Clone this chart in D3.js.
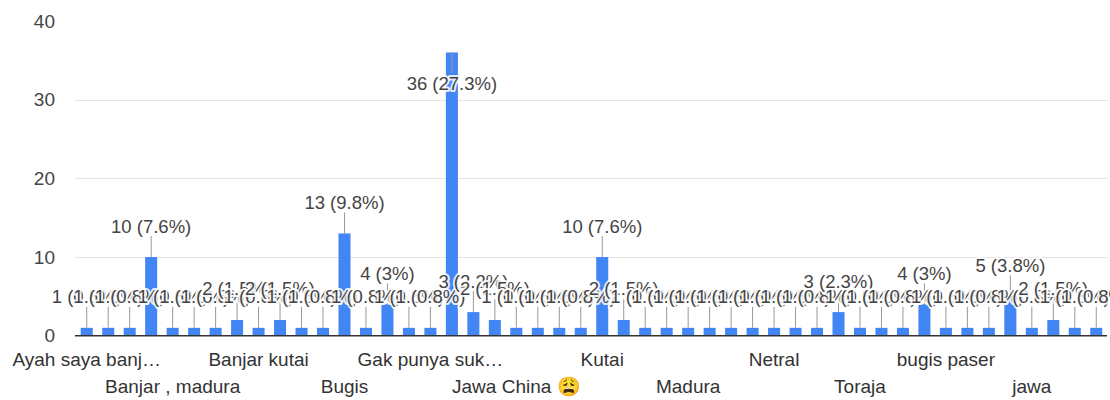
<!DOCTYPE html>
<html><head><meta charset="utf-8">
<script src="https://cdn.jsdelivr.net/npm/d3@7"></script>
<style>
body{margin:0;background:#fff;}
text{font-family:Arial,"Liberation Sans",sans-serif;}
</style>
</head><body>
<svg id="chart" width="1110" height="400"></svg>
<script>
const categories = [
  "Ayah saya banj…","Bajau","Bali","Banjar","Banjar , madura","Banjar Bugis","Banjar Jawa","Banjar Kutai",
  "Banjar kutai","Berau","Betawi","Bima","Bugis","Bugis Banjar","Dayak","Flores",
  "Gak punya suk…","Jawa","Jawa Banjar","Jawa Bugis","Jawa China 😩","Jawa Madura","Jawa Sunda","Kalimantan",
  "Kutai","Kutai Banjar","Kutai Jawa","Lombok","Madura","Makassar","Mandar","Minang",
  "Netral","Padang","Paser","Sunda","Toraja","Toraja Bugis","banjar","bugis",
  "bugis paser","buton","dayak","indonesia","jawa","kutai","madura","toraja"
];
const counts = [
  1,1,1,10,1,1,1,2,
  1,2,1,1,13,1,4,1,
  1,36,3,2,1,1,1,1,
  10,2,1,1,1,1,1,1,
  1,1,1,3,1,1,1,4,
  1,1,1,5,1,2,1,1
];
const yTicks = [0,10,20,30,40];
const gridTicks = [10,20,30];

const total = d3.sum(counts);
const data = categories.map((c,i)=>({cat:c, v:counts[i], i}));

const svg = d3.select("#chart");
const x = d3.scaleBand().domain(categories).range([76,1107]).paddingInner(0.44).paddingOuter(0.22);
const y = d3.scaleLinear().domain([0,40]).range([335.7,21]);

// gridlines
svg.append("g").selectAll("line").data(gridTicks).join("line")
  .attr("x1",75).attr("x2",1107)
  .attr("y1",d=>Math.round(y(d))+0.5).attr("y2",d=>Math.round(y(d))+0.5)
  .attr("stroke","#e3e3e3").attr("stroke-width",1);

// y tick labels
svg.append("g").selectAll("text").data(yTicks).join("text")
  .attr("x",55).attr("y",d=>y(d)).attr("dy","0.35em")
  .attr("text-anchor","end").attr("font-size",19).attr("fill","#444")
  .text(d=>d);

// bars
svg.append("g").selectAll("rect").data(data).join("rect")
  .attr("x",d=>x(d.cat)).attr("width",x.bandwidth())
  .attr("y",d=>y(d.v)).attr("height",d=>y(0)-y(d.v))
  .attr("fill","#4285f4");

// baseline
svg.append("line").attr("x1",75).attr("x2",1107)
  .attr("y1",y(0)).attr("y2",y(0))
  .attr("stroke","#333").attr("stroke-width",1.5);

// annotations
const off = 31, stem = 21;
const flip = d => (y(d.v) - off - 10) < y(40);
const pct = v => (+(v/total*100).toFixed(1)) + "%";

const ann = svg.append("g");
ann.selectAll("line").data(data).join("line")
  .attr("x1",d=>x(d.cat)+x.bandwidth()/2).attr("x2",d=>x(d.cat)+x.bandwidth()/2)
  .attr("y1",d=>flip(d)? y(d.v) : y(d.v)-stem)
  .attr("y2",d=>flip(d)? y(d.v)+stem : y(d.v))
  .attr("stroke","#999").attr("stroke-width",1);

ann.selectAll("text").data(data).join("text")
  .attr("x",d=>x(d.cat)+x.bandwidth()/2)
  .attr("y",d=>flip(d)? y(d.v)+off : y(d.v)-off)
  .attr("dy","0.35em")
  .attr("text-anchor","middle").attr("font-size",18.5)
  .attr("fill","#444").attr("stroke","#fff").attr("stroke-width",4)
  .attr("stroke-opacity",0.85)
  .attr("paint-order","stroke").attr("stroke-linejoin","round")
  .text(d=>`${d.v} (${pct(d.v)})`);

// category labels (every 4th, alternating rows)
svg.append("g").selectAll("text").data(data.filter(d=>d.i%4===0)).join("text")
  .attr("x",d=>x(d.cat)+x.bandwidth()/2)
  .attr("y",d=>(d.i/4)%2===0 ? 366 : 393)
  .attr("text-anchor","middle").attr("font-size",19).attr("fill","#333")
  .text(d=>d.cat);
</script>
</body></html>
